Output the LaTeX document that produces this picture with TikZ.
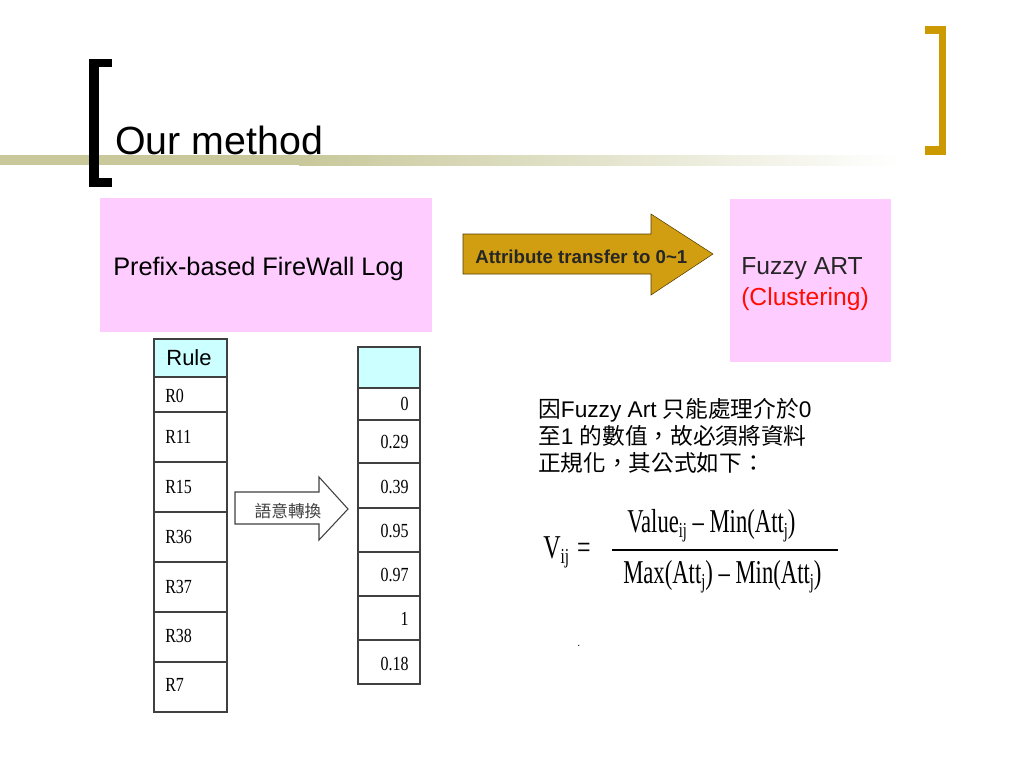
\documentclass[tikz,border=0pt]{standalone}
\usepackage{fontspec}
\usepackage{graphicx}
\setmainfont{Liberation Sans}
\newfontfamily\timesfont{Liberation Serif}
\newfontfamily\cjk{Noto Sans CJK TC}
\usetikzlibrary{positioning}

\definecolor{slidepink}{RGB}{255,204,255}
\definecolor{slidecyan}{RGB}{204,255,255}
\definecolor{slidegold}{RGB}{204,153,0}
\definecolor{slideolive}{RGB}{200,200,155}
\definecolor{arrowgold}{RGB}{209,158,18}
\definecolor{cellline}{RGB}{64,64,64}

\newcommand{\narrowtxt}[2][0.8]{\scalebox{#1}[1]{#2}}
\newcommand{\formfont}{\timesfont\fontsize{25}{28}\selectfont}
\newcommand{\lowsub}[1]{\raisebox{-0.35ex}{\fontsize{16}{18}\selectfont #1}}

\tikzset{
  txt/.style={inner sep=0pt, anchor=base west},
  cell/.style={draw=cellline, line width=0.8pt},
  celltxt/.style={inner sep=0pt, font=\timesfont\fontsize{15}{17}\selectfont}
}

\begin{document}
\begin{tikzpicture}
        [x=0.75pt,y=-0.75pt]
        \useasboundingbox (0,0) rectangle (1024,768);

        % title
        \fill[slideolive] (0,155) rectangle (300,165);
        \shade[left color=slideolive, right color=white] (299,155) rectangle (900,165);
        \fill (89,59) rectangle (99,187);
        \fill (89,59) rectangle (112,67);
        \fill (89,178) rectangle (112,187);
        \fill[slidegold] (939,26) rectangle (946,155);
        \fill[slidegold] (925,26) rectangle (946,34);
        \fill[slidegold] (925,146) rectangle (946,155);
        \node[txt, font=\fontsize{29.5}{34}\selectfont] (title) at (115,154) {Our method};

        % top row
        \fill[slidepink] (100,198) rectangle (432,332);
        \node[txt, font=\fontsize{19}{22}\selectfont] (fwlog) at (113,275) {Prefix-based FireWall Log};

        \draw[draw=black!60!slidegold, fill=arrowgold] (463,234) -- (651,234) -- (651,214)
          -- (713,254) -- (651,295) -- (651,274) -- (463,274) -- cycle;
        \node[txt, font=\bfseries\fontsize{14}{16}\selectfont, text=black!85] (transfer) at (475,263)
          {Attribute transfer to 0\textasciitilde1};

        \fill[slidepink] (730,199) rectangle (891,362);
        \node[txt, font=\fontsize{18.5}{22}\selectfont, text=black!85] (fuzzy) at (741,274) {Fuzzy ART};
        \node[txt, font=\fontsize{18.5}{22}\selectfont, text=red!90!orange] (cluster) at (741,305) {(Clustering)};

        % rule table
        \draw[cell, fill=slidecyan] (154,339) rectangle (227,377);
        \node[font=\fontsize{16.5}{18}\selectfont, inner sep=0pt] (rulehead) at (189,358) {Rule};
        \foreach \top/\bot/\base/\lab in {377/412/402/R0, 412/462/443/R11, 462/512/493/R15,
          512/562/543/R36, 562/612/593/R37, 612/662/642/R38, 662/712/691/R7}
        {\draw[cell] (154,\top) rectangle (227,\bot);
         \node[celltxt, anchor=base west] (rule\lab) at (165,\base) {\narrowtxt{\lab}};}

        % value table
        \draw[cell, fill=slidecyan] (358,347) rectangle (420,388);
        \foreach \top/\bot/\base/\val/\name in {388/420/410/0/a, 420/463/448/0.29/b, 463/508/493/0.39/c,
          508/552/537/0.95/d, 552/596/581/0.97/e, 596/640/625/1/f, 640/684/670/0.18/g}
        {\draw[cell] (358,\top) rectangle (420,\bot);
         \node[celltxt, anchor=base east] (val\name) at (409,\base) {\narrowtxt{\val}};}

        \draw[draw=black!75, fill=white, line width=0.8pt] (235,492) -- (319,492) -- (319,477)
          -- (348,509) -- (319,540) -- (319,524) -- (235,524) -- cycle;
        \node[font=\cjk\fontsize{12.5}{14}\selectfont, text=black!75, inner sep=0pt] (semantic) at (288,511) {語意轉換};

        % note and formula
        \node[txt, font=\fontsize{17}{20}\selectfont] (note1) at (538,417) {{\cjk 因}Fuzzy Art {\cjk 只能處理介於}0};
        \node[txt, font=\fontsize{17}{20}\selectfont] (note2) at (538,444) {{\cjk 至}1 {\cjk 的數值，故必須將資料}};
        \node[txt, font=\fontsize{17}{20}\selectfont] (note3) at (538,471) {{\cjk 正規化，其公式如下：}};

        \node[txt, font=\formfont] (vij) at (543,558) {\narrowtxt[0.72]{V\lowsub{ij}\,\,=}};
        \node[txt, font=\formfont] (numer) at (627,532) {\narrowtxt[0.68]{Value\lowsub{ij}\ –\ Min(Att\lowsub{j})}};
        \draw[line width=1.5pt] (612,550) -- (838,550);
        \node[txt, font=\formfont] (denom) at (623,583) {\narrowtxt[0.68]{Max(Att\lowsub{j})\ –\ Min(Att\lowsub{j})}};
        \node[txt, font=\fontsize{8}{9}\selectfont] (dot) at (577,646) {.};
      \end{tikzpicture}
\end{document}
